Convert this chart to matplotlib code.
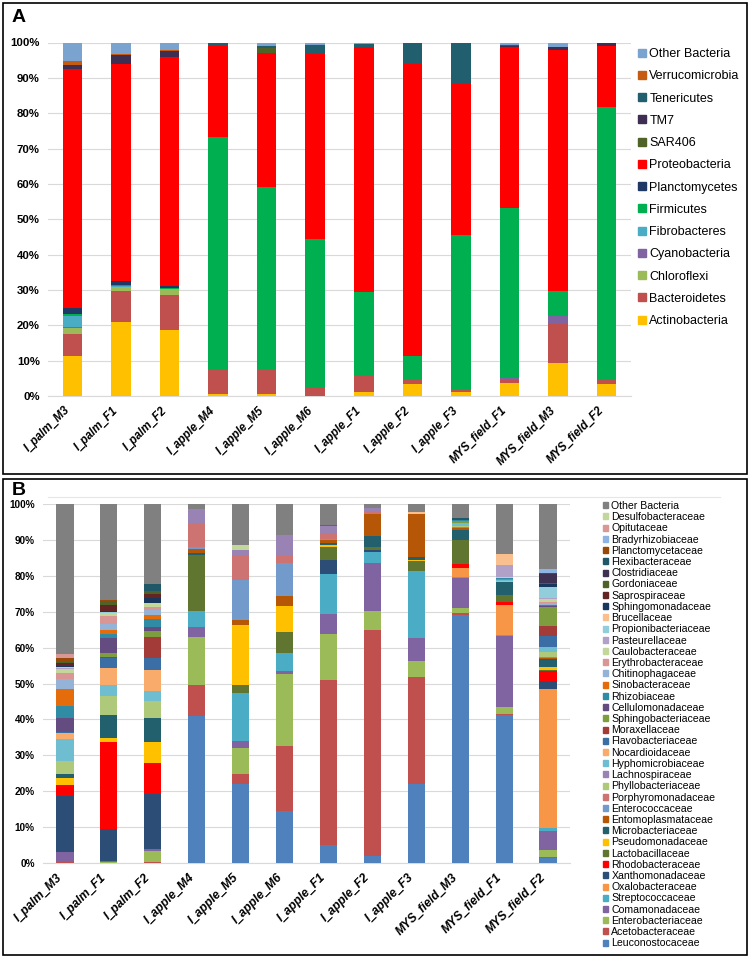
import numpy as np
import matplotlib.pyplot as plt
from matplotlib.patches import Patch, Rectangle
from matplotlib.lines import Line2D

plt.rcParams['font.family'] = ['Liberation Sans', 'DejaVu Sans']

samples = ['I_palm_M3', 'I_palm_F1', 'I_palm_F2', 'I_apple_M4', 'I_apple_M5', 'I_apple_M6',
           'I_apple_F1', 'I_apple_F2', 'I_apple_F3', 'MYS_field_F1', 'MYS_field_M3', 'MYS_field_F2']
samples_b = ['I_palm_M3', 'I_palm_F1', 'I_palm_F2', 'I_apple_M4', 'I_apple_M5', 'I_apple_M6',
             'I_apple_F1', 'I_apple_F2', 'I_apple_F3', 'MYS_field_M3', 'MYS_field_F1', 'MYS_field_F2']

# Panel A - phyla (bottom to top)
phyla = ['Actinobacteria', 'Bacteroidetes', 'Chloroflexi', 'Cyanobacteria', 'Fibrobacteres',
         'Firmicutes', 'Planctomycetes', 'Proteobacteria', 'SAR406', 'TM7', 'Tenericutes',
         'Verrucomicrobia', 'Other Bacteria']
phyla_colors = ['#FFC000', '#C0504D', '#9BBB59', '#8064A2', '#4BACC6', '#00B050', '#1F3864',
                '#FF0000', '#4F6228', '#3D2E52', '#215F6E', '#C55A11', '#7BA3CF']

actino = [11.3, 20.9, 18.7, 0.5, 0.5, 0.0, 1.2, 3.3, 1.2, 3.7, 9.4, 3.5]
bacteroidetes = [6.2, 8.8, 10.0, 6.9, 7.0, 2.3, 4.5, 1.2, 0.4, 0.9, 11.0, 1.1]
chloroflexi = [1.7, 1.1, 1.5, 0, 0, 0, 0, 0, 0, 0, 0, 0]
cyanobacteria = [0.2, 0, 0, 0, 0, 0, 0, 0, 0, 0.5, 2.3, 0]
fibrobacteres = [3.1, 0.4, 0.2, 0, 0, 0, 0, 0, 0, 0, 0, 0]
firmicutes = [0.7, 0.2, 0.1, 66.0, 51.7, 42.0, 23.6, 6.9, 44.0, 48.2, 7.1, 77.2]
planctomycetes = [1.6, 1.0, 0.5, 0, 0, 0, 0, 0, 0, 0, 0, 0]
proteobacteria = [67.7, 61.6, 64.9, 25.5, 37.8, 52.5, 69.4, 82.6, 42.7, 45.3, 68.1, 17.3]
sar406 = [0, 0, 0, 0, 1.4, 0, 0, 0, 0, 0, 0, 0]
tm7 = [1.0, 2.5, 1.8, 0, 0, 0, 0, 0, 0, 0.3, 0.7, 0.8]
tenericutes = [0, 0, 0, 1.1, 0.5, 2.6, 0.8, 6.0, 11.7, 0.3, 0, 0]
verruco = [1.4, 0.3, 0.2, 0, 0, 0, 0, 0, 0, 0, 0, 0]
other_a = [5.1, 3.2, 2.2, 0, 1.1, 0.6, 0.5, 0, 0, 0.8, 1.4, 0]
phyla_vals = [actino, bacteroidetes, chloroflexi, cyanobacteria, fibrobacteres, firmicutes,
              planctomycetes, proteobacteria, sar406, tm7, tenericutes, verruco, other_a]

# Panel B - families (bottom to top)
families = ['Leuconostocaceae', 'Acetobacteraceae', 'Enterobacteriaceae', 'Comamonadaceae',
            'Streptococcaceae', 'Oxalobacteraceae', 'Xanthomonadaceae', 'Rhodobacteraceae',
            'Lactobacillaceae', 'Pseudomonadaceae', 'Microbacteriaceae', 'Entomoplasmataceae',
            'Enterococcaceae', 'Porphyromonadaceae', 'Phyllobacteriaceae', 'Lachnospiraceae',
            'Hyphomicrobiaceae', 'Nocardioidaceae', 'Flavobacteriaceae', 'Moraxellaceae',
            'Sphingobacteriaceae', 'Cellulomonadaceae', 'Rhizobiaceae', 'Sinobacteraceae',
            'Chitinophagaceae', 'Erythrobacteraceae', 'Caulobacteraceae', 'Pasteurellaceae',
            'Propionibacteriaceae', 'Brucellaceae', 'Sphingomonadaceae', 'Saprospiraceae',
            'Gordoniaceae', 'Clostridiaceae', 'Flexibacteraceae', 'Planctomycetaceae',
            'Bradyrhizobiaceae', 'Opitutaceae', 'Desulfobacteraceae', 'Other Bacteria']
family_colors = ['#4F81BD', '#C0504D', '#9BBB59', '#8064A2', '#4BACC6', '#F79646', '#2C4D75',
                 '#FF0000', '#5F7530', '#FFC000', '#23606E', '#B65708', '#729ACA', '#CD7371',
                 '#AFC97A', '#9983B5', '#6FBDD1', '#F9AB6B', '#3A6EA5', '#A33B39', '#7E9D3F',
                 '#644C80', '#2F8CA4', '#E46C0A', '#95B3D7', '#DA9694', '#C4D79B', '#B1A0C7',
                 '#92CDDC', '#FABF8F', '#17375E', '#632523', '#4F6228', '#3F3151', '#205867',
                 '#984807', '#8DB4E2', '#D99795', '#C3D69B', '#808080']

# one list per sample, in the order of `families`
palm_m3 =      [0, 0.2, 0, 2.9, 0, 0, 15.7, 2.9, 0, 2.0, 1.2, 0, 0, 0, 3.5, 0, 6.2, 1.6, 0.2, 0.3, 0, 3.6, 3.3, 4.8, 2.8, 1.7, 1.1, 0.2, 0.2, 0.2, 0.3, 0.7, 0.3, 0, 0, 1.1, 0.2, 0.9, 0.2, 41.7]
palm_f1 =      [0, 0, 0.3, 0.3, 0, 0, 8.8, 24.2, 0, 1.3, 6.3, 0, 0, 0, 5.2, 0, 3.2, 4.6, 3.0, 0.3, 0.9, 4.4, 1.1, 1.1, 1.6, 2.1, 0.8, 0, 0.3, 0, 0.3, 1.7, 1.1, 0, 0, 0.3, 0, 0, 0, 26.8]
palm_f2 =      [0, 0.3, 3.0, 0.6, 0, 0, 15.3, 8.6, 0, 5.9, 6.8, 0, 0, 0, 4.6, 0, 2.8, 5.8, 3.5, 5.8, 1.5, 1.1, 2.3, 1.2, 1.3, 1.0, 1.1, 0, 0, 0, 1.4, 0.9, 1.1, 0, 1.7, 0.2, 0, 0, 0, 22.2]
apple_m4 =     [40.9, 8.8, 13.2, 2.8, 4.6, 0, 0, 0, 15.4, 0, 0.6, 1.2, 0.6, 6.6, 0, 3.9, 0, 0, 0, 0, 0, 0, 0, 0, 0, 0, 0, 0, 0, 0, 0, 0, 0, 0, 0, 0, 0, 0, 0, 1.4]
apple_m5 =     [22.0, 2.8, 7.1, 2.0, 13.5, 0, 0, 0, 2.3, 16.7, 0, 1.2, 11.3, 7.0, 0, 1.4, 0, 0, 0, 0, 0, 0, 0, 0, 0, 0, 0, 0, 0, 0, 0, 0, 0, 0, 0, 0, 0, 0, 1.2, 11.5]
apple_m6 =     [14.4, 18.3, 20.0, 0.9, 4.9, 0, 0, 0, 5.8, 7.4, 0, 2.8, 9.1, 2.0, 0, 5.8, 0, 0, 0, 0, 0, 0, 0, 0, 0, 0, 0, 0, 0, 0, 0, 0, 0, 0, 0, 0, 0, 0, 0, 8.6]
apple_f1 =     [4.9, 46.1, 12.8, 5.6, 11.1, 0, 4.0, 0, 3.5, 0.5, 0.6, 0.9, 0.3, 1.6, 0, 1.9, 0, 0, 0.3, 0, 0, 0, 0, 0, 0, 0, 0, 0, 0, 0, 0, 0, 0, 0, 0, 0, 0, 0, 0, 5.9]
apple_f2 =     [2.0, 62.8, 5.5, 13.3, 3.0, 0, 0.6, 0, 0.8, 0, 3.1, 6.0, 0, 0.9, 0, 0.9, 0, 0, 0, 0, 0, 0, 0, 0, 0, 0, 0, 0, 0, 0, 0, 0, 0, 0, 0, 0, 0, 0, 0, 1.1]
apple_f3 =     [22.0, 29.7, 4.7, 6.2, 18.8, 0, 0, 0, 2.8, 0.3, 0.6, 12.1, 0, 0, 0, 0, 0, 0, 0, 0, 0, 0, 0, 0, 0, 0, 0, 0, 0, 0.5, 0, 0, 0, 0, 0, 0, 0, 0, 0, 2.3]
mys_m3 =       [69.2, 0.4, 1.4, 8.5, 0.3, 2.5, 0, 1.1, 6.6, 0, 2.8, 0.6, 0, 0.3, 0.3, 0, 0.7, 0, 0, 0, 0.5, 0, 0.4, 0, 0, 0, 0, 0, 0, 0, 0, 0, 0, 0, 0.4, 0, 0, 0, 0, 4.0]
mys_f1 =       [41.1, 0.4, 1.9, 19.9, 0.3, 8.4, 0, 0.8, 1.9, 0, 3.5, 0, 0, 0, 0.3, 0, 0.3, 0, 0, 0, 0.3, 0, 0.3, 0, 0, 0, 0.3, 3.4, 0, 3.0, 0, 0, 0, 0, 0, 0, 0, 0, 0, 13.9]
mys_f2 =       [1.4, 0.4, 1.7, 5.5, 0.7, 38.8, 2.2, 2.8, 0.2, 0.9, 2.1, 0.3, 0, 0.3, 1.6, 0, 1.2, 0, 3.2, 2.8, 5.3, 0.3, 0.3, 0, 0.3, 0.3, 0.9, 0.3, 3.2, 0, 0.7, 0, 0.4, 2.5, 0.3, 0, 0.9, 0, 0, 18.2]
family_table = [palm_m3, palm_f1, palm_f2, apple_m4, apple_m5, apple_m6,
                apple_f1, apple_f2, apple_f3, mys_m3, mys_f1, mys_f2]

fig = plt.figure(figsize=(7.5, 9.59), dpi=100)
W, H = 750, 959


def style(ax, labels, yfs, xfs):
    ax.set_xlim(-0.5, 11.5)
    ax.set_ylim(0, 100)
    ax.set_yticks(range(0, 101, 10))
    ax.set_yticklabels([f'{v}%' for v in range(0, 101, 10)], fontsize=yfs, fontweight='bold')
    ax.set_xticks(range(12))
    ax.set_xticklabels(labels, rotation=45, ha='right', va='top', fontsize=xfs,
                       fontweight='bold', fontstyle='italic')
    ax.grid(axis='y', color='#D9D9D9', lw=0.8, zorder=0)
    for s in ['top', 'right', 'left']:
        ax.spines[s].set_visible(False)
    ax.spines['bottom'].set_color('#D9D9D9')
    ax.tick_params(length=0, pad=6)


# ---- panel A
axA = fig.add_axes([48 / W, 1 - 396 / H, 583 / W, 353.5 / H])
x = np.arange(12)
bottom = np.zeros(12)
for name, vals, col in zip(phyla, phyla_vals, phyla_colors):
    vals = np.array(vals, dtype=float)
    axA.bar(x, vals, 0.4, bottom=bottom, color=col, label=name, zorder=3)
    bottom += vals
style(axA, samples, 8.2, 8.3)
handlesA = [Patch(color=c, label=n) for n, c in zip(phyla, phyla_colors)][::-1]
fig.legend(handles=handlesA, loc='upper left', bbox_to_anchor=(638 / W, 1 - 48 / H),
           frameon=False, fontsize=9, handlelength=0.6, handleheight=0.6,
           handletextpad=0.3, labelspacing=0.82, borderpad=0, borderaxespad=0)
fig.text(12 / W, 1 - 18 / H, 'A', fontsize=14, fontweight='bold', va='center')

# ---- panel B
axB = fig.add_axes([43 / W, 1 - 863 / H, 527 / W, 359 / H])
table = np.array(family_table, dtype=float)
table = table / table.sum(axis=1, keepdims=True) * 100
bottom = np.zeros(12)
for j, (name, col) in enumerate(zip(families, family_colors)):
    axB.bar(x, table[:, j], 0.39, bottom=bottom, color=col, label=name, zorder=3)
    bottom += table[:, j]
style(axB, samples_b, 7.2, 8.7)
handlesB = [Patch(color=c, label=n) for n, c in zip(families, family_colors)][::-1]
fig.legend(handles=handlesB, loc='upper left', bbox_to_anchor=(603 / W, 1 - 501 / H),
           frameon=False, fontsize=7.6, handlelength=0.5, handleheight=0.5,
           handletextpad=0.3, labelspacing=0.115, borderpad=0, borderaxespad=0)
fig.text(12 / W, 1 - 490 / H, 'B', fontsize=14, fontweight='bold', va='center')
fig.add_artist(Line2D([48 / W, 720 / W], [1 - 497 / H, 1 - 497 / H], color='#E6E6E6', lw=0.8))

# panel frames
fig.add_artist(Rectangle((3 / W, 1 - 474 / H), 744 / W, 471 / H, transform=fig.transFigure,
                         fill=False, ec='black', lw=1.2))
fig.add_artist(Rectangle((3 / W, 1 - 955 / H), 744 / W, 476 / H, transform=fig.transFigure,
                         fill=False, ec='black', lw=1.2))

fig.savefig('out.png', dpi=100)
